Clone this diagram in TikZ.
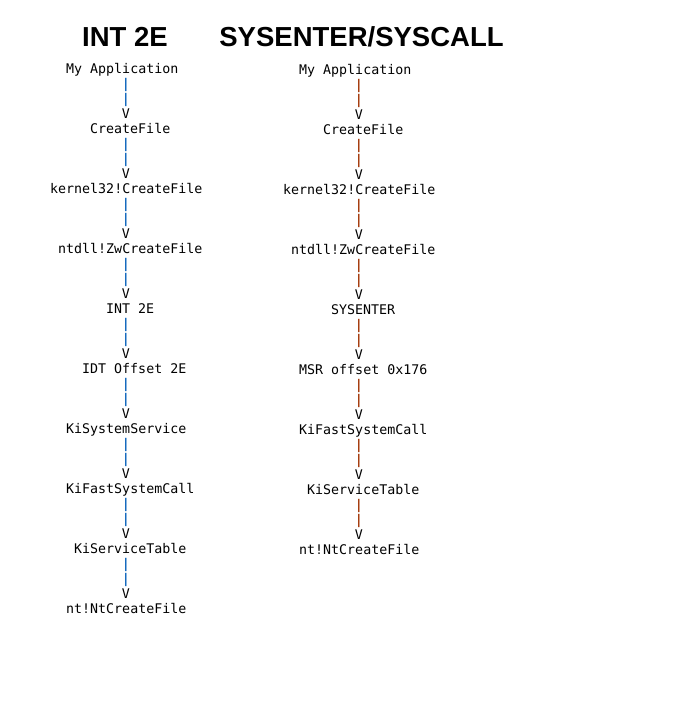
\documentclass[tikz,border=0pt]{standalone}
\usepackage{fontspec}
\setmainfont{Liberation Sans}
\setmonofont{DejaVu Sans Mono}
\definecolor{pipeblue}{RGB}{20,105,190}
\definecolor{pipebrown}{RGB}{165,60,15}
\tikzset{
  mono/.style={font=\ttfamily\fontsize{13.3}{15}\selectfont, inner sep=0pt, text=black},
  label/.style={mono, anchor=base west},
  glyph/.style={mono, anchor=base},
  pipe/.style={glyph, font=\ttfamily\bfseries\fontsize{13.3}{15}\selectfont},
  title/.style={font=\bfseries\fontsize{27.5}{30}\selectfont, inner sep=0pt, anchor=base}
}
\begin{document}
\begin{tikzpicture}[x=1pt,y=-1pt]
\useasboundingbox[fill=white] (0,0) rectangle (678,702);
\node[title] (t1) at (125,46) {INT 2E};
\node[title] (t2) at (361.5,46) {SYSENTER/SYSCALL};
% left column
\foreach \c/\t [count=\k from 0] in {0/My Application, 3/CreateFile, -2/kernel32!CreateFile, -1/ntdll!ZwCreateFile, 5/INT 2E, 2/IDT Offset 2E, 0/KiSystemService, 0/KiFastSystemCall, 1/KiServiceTable, 0/nt!NtCreateFile}{
  \node[label] (L\k) at ({66+8*\c},{73+60*\k}) {\t};
}
\foreach \k in {0,...,8}{
  \node[pipe, text=pipeblue] (Lpa\k) at (126,{88+60*\k}) {|};
  \node[pipe, text=pipeblue] (Lpb\k) at (126,{103+60*\k}) {|};
  \node[glyph] (Lv\k) at (126,{118+60*\k}) {V};
}
% right column
\foreach \c/\t [count=\k from 0] in {0/My Application, 3/CreateFile, -2/kernel32!CreateFile, -1/ntdll!ZwCreateFile, 4/SYSENTER, 0/MSR offset 0x176, 0/KiFastSystemCall, 1/KiServiceTable, 0/nt!NtCreateFile}{
  \node[label] (R\k) at ({299+8*\c},{74+60*\k}) {\t};
}
\foreach \k in {0,...,7}{
  \node[pipe, text=pipebrown] (Rpa\k) at (359,{89+60*\k}) {|};
  \node[pipe, text=pipebrown] (Rpb\k) at (359,{104+60*\k}) {|};
  \node[glyph] (Rv\k) at (359,{119+60*\k}) {V};
}
\end{tikzpicture}
\end{document}
